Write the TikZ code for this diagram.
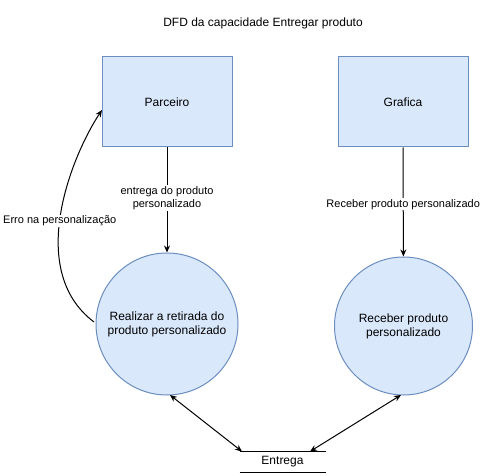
\documentclass[tikz,border=0pt]{standalone}
\usepackage{fontspec}
\setmainfont{Liberation Sans}
\usetikzlibrary{arrows.meta}
\definecolor{boxfill}{HTML}{DAE8FC}
\definecolor{boxline}{HTML}{6C8EBF}
\tikzset{
  entity/.style={draw=boxline, fill=boxfill, minimum width=130pt, minimum height=90pt, font=\fontsize{12}{14}\selectfont},
  process/.style={circle, draw=boxline, fill=boxfill, align=center, font=\fontsize{12}{14}\selectfont},
  flow/.style={-{Stealth[length=7pt,width=6pt]}},
  twoway/.style={{Stealth[length=7pt,width=6pt]}-{Stealth[length=7pt,width=6pt]}},
  flowlabel/.style={fill=white, align=center, inner sep=1pt, font=\fontsize{11}{13}\selectfont}
}
\begin{document}
\begin{tikzpicture}[x=1pt,y=1pt,line width=1pt]
\useasboundingbox (0,0) rectangle (482,-476);

\node[font=\fontsize{12}{14}\selectfont] (title) at (263,-23) {DFD da capacidade Entregar produto};

\node[entity] (parceiro) at (167,-102) {Parceiro};
\node[entity] (grafica) at (403,-102) {Grafica};

\node[process, minimum size=142pt] (retirada) at (167,-324) {Realizar a retirada do\\produto personalizado};
\node[process, minimum size=138pt] (receber) at (403.5,-326) {Receber produto\\personalizado};

% deposito de dados
\node[minimum width=85pt, minimum height=20pt, font=\fontsize{12}{14}\selectfont] (entrega) at (282.5,-462) {Entrega};
\draw (entrega.north west) -- (entrega.north east);
\draw (entrega.south west) -- (entrega.south east);

\draw[flow] (parceiro) -- (retirada) node[flowlabel, pos=0.48] {entrega do produto\\personalizado};
\draw[flow] (grafica) -- (receber) node[flowlabel, pos=0.52] {Receber produto personalizado};

\coordinate (erroA) at (94,-322);
\coordinate (erroB) at (102,-110);
\draw[flow] (erroA) .. controls (25,-270) and (72,-155) .. (erroB)
  node[flowlabel, pos=0.47] {Erro na personalização};

\coordinate (retiradaS) at (170,-395);
\coordinate (receberS) at (401,-395);
\draw[twoway] (retiradaS) -- (entrega.north west -| 242,0);
\draw[twoway] (receberS) -- (entrega.north west -| 310,0);
\end{tikzpicture}
\end{document}
